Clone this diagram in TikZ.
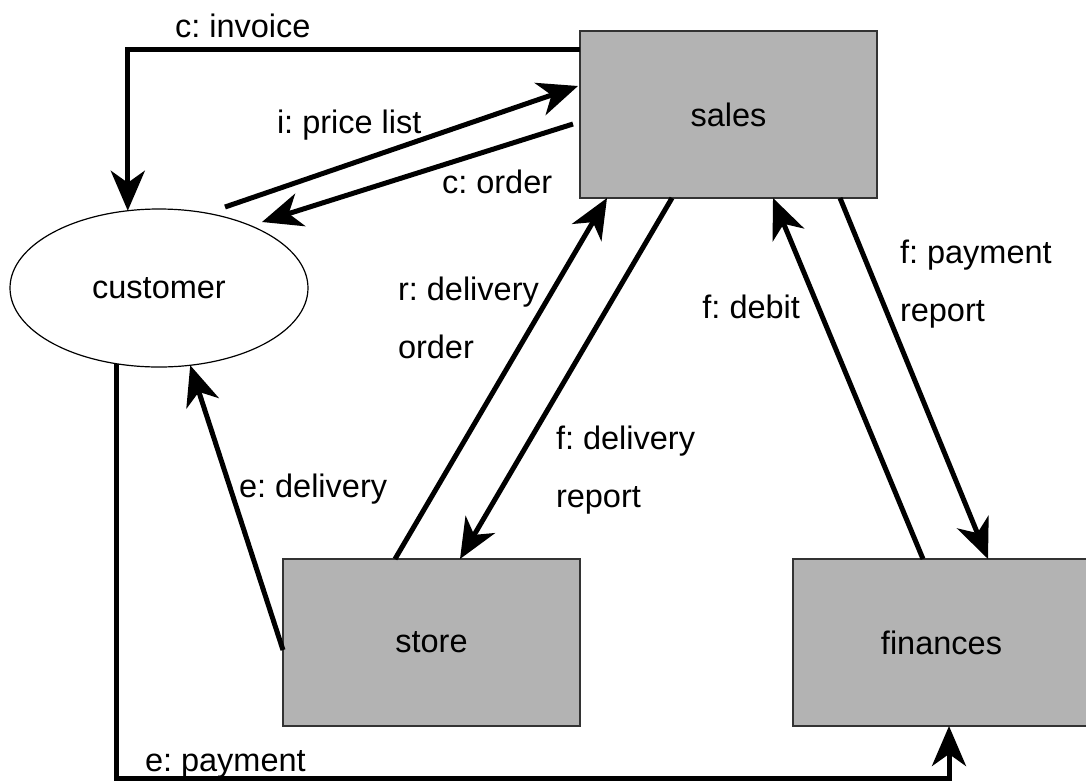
\documentclass[tikz,border=0pt]{standalone}
\usepackage{fontspec}
\setmainfont{Liberation Sans}
\usetikzlibrary{arrows.meta,shapes.geometric}
\definecolor{boxgray}{HTML}{B3B3B3}
\definecolor{edgegray}{HTML}{333333}
\begin{document}
\frenchspacing
\begin{tikzpicture}[x=1pt,y=-1pt,
  every node/.style={font=\fontsize{32.5}{58}\selectfont\frenchspacing, inner sep=0pt, outer sep=0pt},
  unit/.style={draw=edgegray, line width=1.5pt, fill=boxgray, minimum width=297pt, minimum height=167pt},
  actor/.style={ellipse, draw=black, line width=1.2pt, minimum width=298pt, minimum height=158pt},
  flow/.style={line width=5pt, -{Stealth[length=40pt,width=34pt,inset=12pt]}},
  lbl/.style={anchor=base west, align=left}]
\useasboundingbox (0,0) rectangle (1086,780);
\node[unit] (sales) at (728.5,114.5) {sales};
\node[unit] (store) at (431.5,642.5) {store};
\node[unit] (fin) at (941.5,642.5) {finances};
\node[actor] (cust) at (159,288) {customer};
% connectors
\draw[flow] ([yshift=-18pt]sales.north west) -| (cust.112);
\draw[flow] ([shift={(66,-81)}]cust.center) -- ([shift={(-2,-28.5)}]sales.west);
\draw[flow] ([shift={(-7,9.5)}]sales.west) -- ([shift={(103,-66)}]cust.center);
\draw[flow] ([xshift=112pt]store.north west) -- ([xshift=27pt]sales.south west);
\draw[flow] ([xshift=92pt]sales.south west) -- ([xshift=177pt]store.north west);
\draw[flow] ([xshift=130pt]fin.north west) -- ([xshift=193pt]sales.south west);
\draw[flow] ([xshift=260pt]sales.south west) -- ([xshift=195pt]fin.north west);
\draw[flow] ([yshift=-7.5pt]store.west) -- (cust.292);
\coordinate (payturn) at (949,778);
\draw[flow] (cust.241.7) |- (payturn) -- ([xshift=7.5pt]fin.south);
% labels
\node[lbl] (linv) at (175,37) {c: invoice};
\node[lbl] (lpr) at (277,133) {i: price list};
\node[lbl] (lord) at (442,193) {c: order};
\node[lbl] (ldo) at (398,358) {r: delivery\\order};
\node[lbl] (ldr) at (556,507) {f: delivery\\report};
\node[lbl] (lpay) at (900,321) {f: payment\\report};
\node[anchor=base east] (ldeb) at (800,318) {f: debit};
\node[lbl] (ldel) at (239,497) {e: delivery};
\node[lbl] (lpmt) at (145,771) {e: payment};
\end{tikzpicture}
\end{document}
